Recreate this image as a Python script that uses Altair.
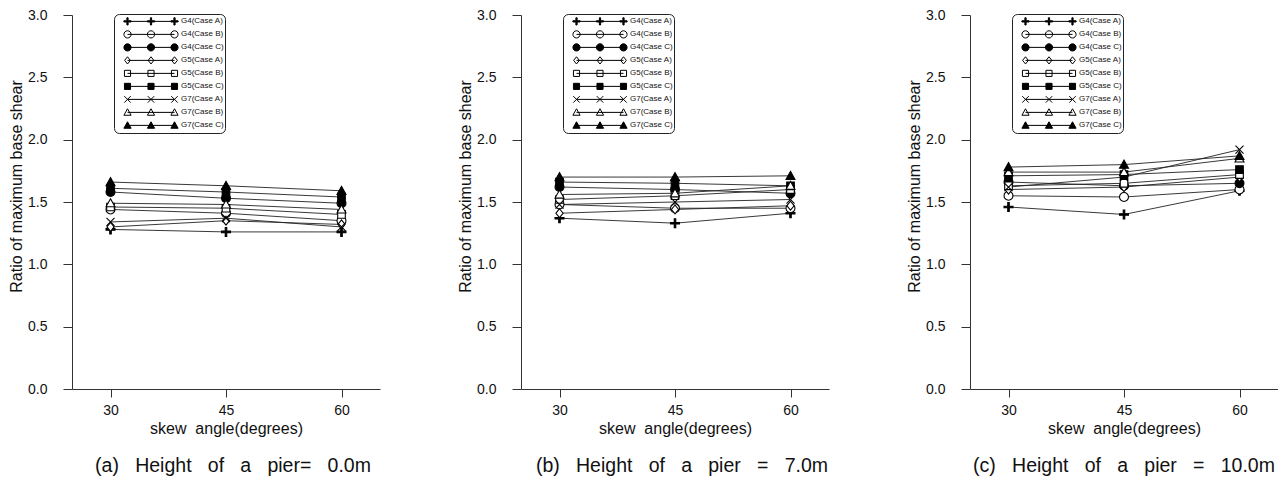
import altair as alt
import pandas as pd

angles = [30, 45, 60]
series = ["G4(Case A)", "G4(Case B)", "G4(Case C)",
          "G5(Case A)", "G5(Case B)", "G5(Case C)",
          "G7(Case A)", "G7(Case B)", "G7(Case C)"]
marker_kind = ["plus", "circle", "circle", "diamond", "square", "square", "x", "triangle", "triangle"]
marker_fill = ["black", "white", "black", "white", "white", "black", "white", "white", "black"]

# values per series (rows follow `series`), columns follow `angles`
vals_a = [[1.28, 1.26, 1.26],
          [1.44, 1.41, 1.35],
          [1.58, 1.53, 1.49],
          [1.30, 1.35, 1.32],
          [1.46, 1.45, 1.40],
          [1.61, 1.58, 1.54],
          [1.34, 1.37, 1.30],
          [1.49, 1.48, 1.44],
          [1.66, 1.63, 1.59]]
vals_b = [[1.37, 1.33, 1.41],
          [1.48, 1.45, 1.45],
          [1.62, 1.60, 1.57],
          [1.41, 1.44, 1.47],
          [1.52, 1.55, 1.60],
          [1.66, 1.65, 1.63],
          [1.48, 1.50, 1.52],
          [1.56, 1.57, 1.63],
          [1.70, 1.70, 1.71]]
vals_c = [[1.46, 1.40, 1.59],
          [1.55, 1.54, 1.60],
          [1.66, 1.63, 1.65],
          [1.60, 1.62, 1.70],
          [1.63, 1.65, 1.72],
          [1.71, 1.72, 1.76],
          [1.62, 1.70, 1.92],
          [1.74, 1.74, 1.85],
          [1.78, 1.80, 1.87]]
G = "\u00a0\u00a0\u00a0"
captions = [f"(a){G}Height{G}of{G}a{G}pier={G}0.0m",
            f"(b){G}Height{G}of{G}a{G}pier{G}={G}7.0m",
            f"(c){G}Height{G}of{G}a{G}pier{G}={G}10.0m"]
caption_dx = [7, 7, 0]
y_ticks = [0.0, 0.5, 1.0, 1.5, 2.0, 2.5, 3.0]

FONT = "Liberation Sans"
PANEL_W = 308
PANEL_H = 374


def f(v):
    return f"{v:.3f}".rstrip("0").rstrip(".")


def marker_path(kind, cx, r):
    def P(x, y):
        return f"{f(cx + x * r)},{f(y * r)}"
    if kind == "plus":
        w = 0.17
        pts = [(-1, -w), (-w, -w), (-w, -1), (w, -1), (w, -w), (1, -w), (1, w), (w, w), (w, 1), (-w, 1), (-w, w), (-1, w)]
        return "M" + "L".join(P(x, y) for x, y in pts) + "Z"
    if kind == "circle":
        return f"M{P(-1, 0)}A{f(r)},{f(r)} 0 1,0 {P(1, 0)}A{f(r)},{f(r)} 0 1,0 {P(-1, 0)}Z"
    if kind == "diamond":
        return f"M{P(0, -1)}L{P(0.8, 0)}L{P(0, 1)}L{P(-0.8, 0)}Z"
    if kind == "square":
        return f"M{P(-0.85, -0.85)}L{P(0.85, -0.85)}L{P(0.85, 0.85)}L{P(-0.85, 0.85)}Z"
    if kind == "x":
        return f"M{P(-0.9, -0.9)}L{P(0.9, 0.9)}M{P(-0.9, 0.9)}L{P(0.9, -0.9)}"
    if kind == "triangle":
        return f"M{P(0, -1)}L{P(1, 0.8)}L{P(-1, 0.8)}Z"


point_paths = [marker_path(k, 0, 1) for k in marker_kind]
# legend symbols drawn at unit scale (size=4 -> 1 path unit = 1 px): line with three markers
legend_paths = ["M-23.5,0L23.5,0" + "".join(marker_path(k, c, 3.6) for c in (-23.5, 0, 23.5))
                for k in marker_kind]

rows = []
for panel, vals in zip(["a", "b", "c"], [vals_a, vals_b, vals_c]):
    for s, v in zip(series, vals):
        for a, val in zip(angles, v):
            rows.append({"panel": panel, "series": s, "angle": a, "value": val})
df = pd.DataFrame(rows)


def panel_chart(panel, caption, dx):
    base = alt.Chart(df).transform_filter(alt.datum.panel == panel)
    x = alt.X("angle:Q", scale=alt.Scale(domain=[25, 65], nice=False, zero=False),
              axis=alt.Axis(values=angles, title="skew\u00a0\u00a0angle(degrees)", grid=False,
                            tickSize=8, labelPadding=6, titlePadding=3, labelFontSize=14,
                            titleFontSize=16, titleFontWeight="normal", labelFont=FONT, titleFont=FONT,
                            domainColor="#333", tickColor="#333", labelColor="#111", titleColor="#111"))
    y = alt.Y("value:Q", scale=alt.Scale(domain=[0, 3], nice=False),
              axis=alt.Axis(values=y_ticks, format=".1f", title="Ratio of maximum base shear", grid=False,
                            tickSize=9, labelPadding=16, titleX=-48, titleY=171, labelFontSize=14,
                            titleFontSize=16, titleFontWeight="normal", labelFont=FONT, titleFont=FONT,
                            domainColor="#333", tickColor="#333", labelColor="#111", titleColor="#111"))
    lines = base.mark_line(color="#222", strokeWidth=0.9).encode(
        x=x, y=y, detail="series:N", order="angle:Q")
    points = base.mark_point(stroke="black", strokeWidth=1.1, opacity=1, fillOpacity=1, size=80).encode(
        x=x, y=y,
        shape=alt.Shape("series:N", scale=alt.Scale(domain=series, range=point_paths), legend=None),
        fill=alt.Fill("series:N", scale=alt.Scale(domain=series, range=marker_fill), legend=None),
    )
    leg = alt.Legend(title=None, orient="none", legendX=42, legendY=-1, padding=1,
                     strokeColor="#222", fillColor="white", cornerRadius=5,
                     labelFontSize=8, labelFont=FONT, labelColor="#111", labelLimit=200,
                     symbolSize=4, clipHeight=12.75, rowPadding=0, labelOffset=26, symbolOffset=32,
                     symbolStrokeWidth=1, symbolStrokeColor="black", symbolOpacity=1)
    legend_layer = base.transform_filter(alt.datum.value < -100).mark_point(
        strokeWidth=1, opacity=1, fillOpacity=1, size=4).encode(
        x=x, y=y,
        shape=alt.Shape("series:N", scale=alt.Scale(domain=series, range=legend_paths), legend=leg),
        fill=alt.Fill("series:N", scale=alt.Scale(domain=series, range=marker_fill), legend=leg),
        stroke=alt.Stroke("series:N", scale=alt.Scale(domain=series, range=["black"] * len(series)), legend=leg),
    )
    return alt.layer(lines, points, legend_layer).resolve_scale(
        shape="independent", fill="independent", stroke="independent").properties(
        width=PANEL_W, height=PANEL_H,
        title=alt.TitleParams(caption, orient="bottom", fontSize=19.5, fontWeight="normal", font=FONT,
                              color="#111", anchor="middle", frame="group", offset=21, dx=dx))


chart = alt.hconcat(
    *[panel_chart(p, c, d) for p, c, d in zip(["a", "b", "c"], captions, caption_dx)],
    spacing=141, bounds="flush"
).resolve_scale(shape="independent", fill="independent", stroke="independent").configure_view(
    stroke=None).properties(background="white", padding={"left": 0, "top": 0, "right": 0, "bottom": 0})

chart.save("out.html", embed_options={"renderer": "svg", "actions": False})
